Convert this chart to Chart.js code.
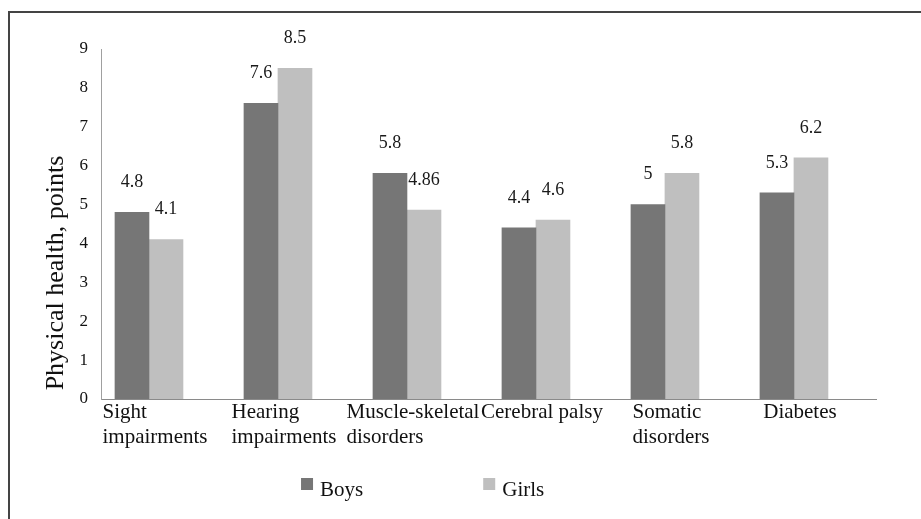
<!DOCTYPE html>
<html>
<head>
<meta charset="utf-8">
<script src="https://cdn.jsdelivr.net/npm/chart.js@4/dist/chart.umd.min.js"></script>
<style>
  html, body { margin: 0; padding: 0; background: #fff; overflow: hidden; }
  #wrap { position: relative; width: 921px; height: 519px; }
  #frame { position: absolute; left: 8px; top: 11px; width: 1000px; height: 1000px;
           border-top: 2px solid #444; border-left: 2px solid #444; pointer-events: none; }
</style>
</head>
<body>
<div id="wrap">
  <canvas id="chart" width="921" height="519"></canvas>
  <div id="frame"></div>
</div>
<script>
'use strict';

const categories = [
  ['Sight', 'impairments'],
  ['Hearing', 'impairments'],
  ['Muscle-skeletal', 'disorders'],
  ['Cerebral palsy'],
  ['Somatic', 'disorders'],
  ['Diabetes'],
];
const seriesNames = ['Boys', 'Girls'];
const boys = [4.8, 7.6, 5.8, 4.4, 5, 5.3];
const girls = [4.1, 8.5, 4.86, 4.6, 5.8, 6.2];
const yTicks = [0, 1, 2, 3, 4, 5, 6, 7, 8, 9];
const yTitle = 'Physical health, points';

const serif = "'Liberation Serif', 'Times New Roman', serif";

// value written over every bar
const valueLabels = {
  id: 'valueLabels',
  afterDatasetsDraw(chart) {
    const { ctx } = chart;
    ctx.save();
    ctx.font = `18px ${serif}`;
    ctx.fillStyle = '#1a1a1a';
    ctx.textAlign = 'center';
    ctx.textBaseline = 'middle';
    chart.data.datasets.forEach((dataset, i) => {
      chart.getDatasetMeta(i).data.forEach((bar, j) => {
        ctx.fillText(String(dataset.data[j].y), bar.x, bar.y - 30);
      });
    });
    ctx.restore();
  },
};

// category names, lines left aligned in a block under each pair
const categoryLabels = {
  id: 'categoryLabels',
  afterDraw(chart) {
    const { ctx, chartArea } = chart;
    const xScale = chart.scales.x;
    ctx.save();
    ctx.font = `21px ${serif}`;
    ctx.fillStyle = '#111';
    ctx.textAlign = 'left';
    ctx.textBaseline = 'alphabetic';
    categories.forEach((lines, i) => {
      const width = Math.max(...lines.map(l => ctx.measureText(l).width));
      const left = xScale.getPixelForValue(i) - width / 2 + 6;
      lines.forEach((line, k) => {
        ctx.fillText(line, left, chartArea.bottom + 19 + k * 25);
      });
    });
    ctx.restore();
  },
};

// rotated axis title, sitting a bit low like the original
const axisTitle = {
  id: 'axisTitle',
  afterDraw(chart) {
    const { ctx, chartArea } = chart;
    ctx.save();
    ctx.translate(56, chartArea.bottom - 126);
    ctx.rotate(-Math.PI / 2);
    ctx.font = `26px ${serif}`;
    ctx.fillStyle = '#111';
    ctx.textAlign = 'center';
    ctx.textBaseline = 'middle';
    ctx.fillText(yTitle, 0, 0);
    ctx.restore();
  },
};

// legend row with wide gap between the items
const legendRow = {
  id: 'legendRow',
  afterDraw(chart) {
    const { ctx, chartArea } = chart;
    const box = 12;
    const textGap = 7;
    const itemGap = 120;
    ctx.save();
    ctx.font = `21px ${serif}`;
    ctx.textAlign = 'left';
    ctx.textBaseline = 'alphabetic';
    const items = chart.data.datasets.map(d => ({
      label: d.label,
      color: d.backgroundColor,
      width: box + textGap + ctx.measureText(d.label).width,
    }));
    const total = items.reduce((s, it) => s + it.width, 0) + itemGap * (items.length - 1);
    let x = chartArea.left + chartArea.width * 0.415 - total / 2;
    const baseline = chartArea.bottom + 97;
    items.forEach(it => {
      ctx.fillStyle = it.color;
      ctx.fillRect(x, baseline - 18, box, box);
      ctx.fillStyle = '#111';
      ctx.fillText(it.label, x + box + textGap, baseline);
      x += it.width + itemGap;
    });
    ctx.restore();
  },
};

const toPoints = values => values.map((v, i) => ({ x: i, y: v }));

new Chart(document.getElementById('chart'), {
  type: 'bar',
  data: {
    datasets: [
      {
        label: seriesNames[0],
        data: toPoints(boys),
        backgroundColor: '#767676',
        borderWidth: 0,
        barThickness: 34,
      },
      {
        label: seriesNames[1],
        data: toPoints(girls),
        backgroundColor: '#bfbfbf',
        borderWidth: 0,
        barThickness: 34,
      },
    ],
  },
  options: {
    responsive: false,
    animation: false,
    devicePixelRatio: 1,
    layout: { padding: { top: 49, right: 45, bottom: 0, left: 0 } },
    plugins: {
      legend: { display: false },
      tooltip: { enabled: false },
    },
    scales: {
      x: {
        type: 'linear',
        min: -0.372,
        max: 5.636,
        offset: false,
        grid: { display: false, drawTicks: false },
        ticks: { display: false },
        border: { display: true, color: '#8a8a8a', width: 1 },
        afterFit: scale => { scale.height = 120; },
      },
      y: {
        min: 0,
        max: 9,
        grid: { display: false, drawTicks: false },
        border: { display: true, color: '#a0a0a0', width: 1 },
        afterBuildTicks: scale => { scale.ticks = yTicks.map(v => ({ value: v })); },
        afterFit: scale => { scale.width = 101; },
        ticks: {
          padding: 13,
          color: '#111',
          font: { family: serif, size: 17 },
        },
      },
    },
  },
  plugins: [valueLabels, categoryLabels, axisTitle, legendRow],
});
</script>
</body>
</html>
